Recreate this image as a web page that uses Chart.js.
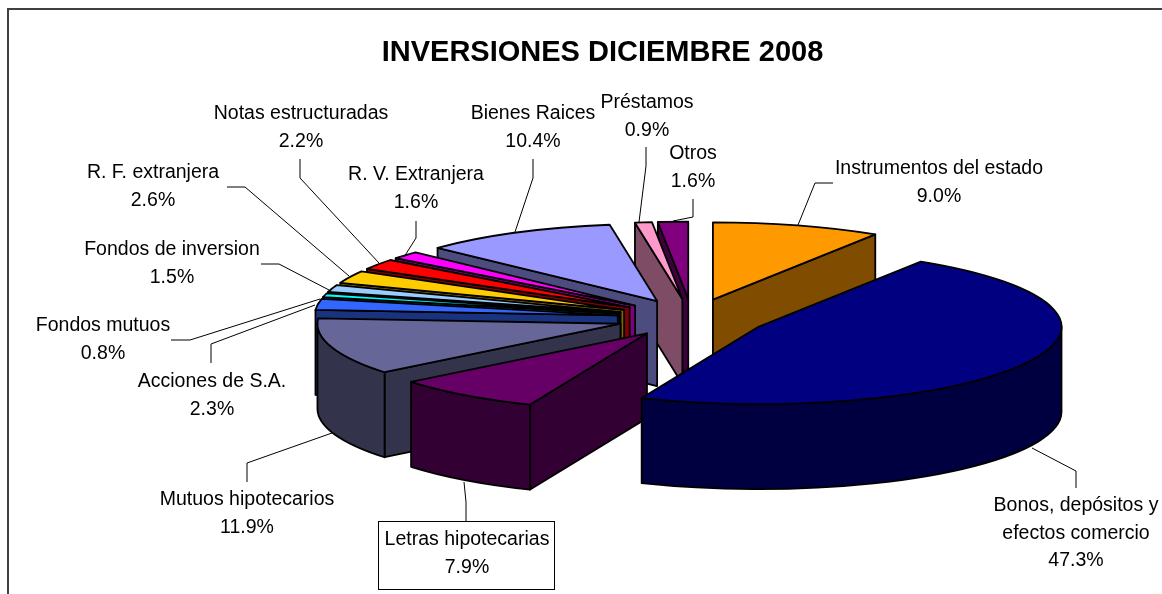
<!DOCTYPE html>
<html>
<head>
<meta charset="utf-8">
<title>Inversiones diciembre 2008</title>
<script src="https://cdn.jsdelivr.net/npm/chart.js@4"></script>
<style>
  html, body { margin: 0; padding: 0; background: #fff; overflow: hidden; }
  #wrap { width: 1162px; height: 594px; }
</style>
</head>
<body>
<div id="wrap"><canvas id="pie" width="1162" height="594"></canvas></div>
<script>
// Datos
const categories = [
  "Instrumentos del estado", "Bonos, depósitos y\nefectos comercio", "Letras hipotecarias",
  "Mutuos hipotecarios", "Acciones de S.A.", "Fondos mutuos", "Fondos de inversion",
  "R. F. extranjera", "Notas estructuradas", "R. V. Extranjera", "Bienes Raices",
  "Préstamos", "Otros"
];
const percents = [9.0, 47.3, 7.9, 11.9, 2.3, 0.8, 1.5, 2.6, 2.2, 1.6, 10.4, 0.9, 1.6];
const topColors = [
  "#FF9900", "#000080", "#660066", "#666699", "#3366FF", "#00FFFF", "#99CCFF",
  "#FFCC00", "#FF0000", "#FF00FF", "#9999FF", "#FF99CC", "#800080"
];

// Etiquetas: centro de la primera linea y linea guia
const labelSpots = [
  { x: 939, y: 169, line: [[833,183],[815,183],[798,225]] },
  { x: 1076, y: 506, line: [[1076,488],[1076,471],[1032,448]] },
  { x: 467, y: 540, line: [[466,521],[466,502],[464,482]], box: [378,521,176,68] },
  { x: 247, y: 500, line: [[247,482],[247,463],[332,433]] },
  { x: 212, y: 382, line: [[211,363],[211,344],[315,305]] },
  { x: 103, y: 326, line: [[171,340],[190,340],[320,299]] },
  { x: 172, y: 250, line: [[261,264],[279,264],[329,290]] },
  { x: 153, y: 173, line: [[227,187],[245,187],[349,276]] },
  { x: 301, y: 114, line: [[300,159],[300,178],[379,263]] },
  { x: 416, y: 175, line: [[416,221],[416,238],[404,257]] },
  { x: 533, y: 114, line: [[533,159],[533,178],[515,232]] },
  { x: 647, y: 103, line: [[646,147],[646,166],[639,222]] },
  { x: 693, y: 154, line: [[693,199],[693,217],[673,221]] }
];
const lineGap = 27.5;

// Vista 3D
const cx = 692, cy = 318, squash = 0.255, depth = 85, explode = 75;

function halfShade(hex) {
  const n = parseInt(hex.slice(1), 16);
  const r = (n >> 16) >> 1, g = ((n >> 8) & 255) >> 1, b = (n & 255) >> 1;
  return "rgb(" + r + "," + g + "," + b + ")";
}

function lowestSin(arc) {
  const a = arc.startAngle, b = arc.endAngle;
  if (a <= Math.PI / 2 && b >= Math.PI / 2) return 1;
  return Math.max(Math.sin(a), Math.sin(b));
}

function drawQuad(ctx, ax, ay, px, py, fill) {
  ctx.beginPath();
  ctx.moveTo(ax, ay);
  ctx.lineTo(px, py);
  ctx.lineTo(px, py + depth);
  ctx.lineTo(ax, ay + depth);
  ctx.closePath();
  ctx.fillStyle = fill;
  ctx.fill();
  ctx.stroke();
}

const framePlugin = {
  id: "frame",
  beforeDraw(chart) {
    const ctx = chart.ctx;
    ctx.save();
    ctx.strokeStyle = "#404040";
    ctx.lineWidth = 2;
    ctx.beginPath();
    ctx.moveTo(8, 594);
    ctx.lineTo(8, 9);
    ctx.lineTo(1162, 9);
    ctx.stroke();
    ctx.restore();
  }
};

// Dibuja cada porcion de atras hacia adelante, con sus paredes
const pie3d = {
  id: "pie3d",
  beforeDatasetDraw(chart, args) {
    const ctx = chart.ctx;
    const arcs = args.meta.data.slice().sort((p, q) => lowestSin(p) - lowestSin(q));

    arcs.forEach((arc) => {
      const i = args.meta.data.indexOf(arc);
      const a = arc.startAngle, b = arc.endAngle, r = arc.outerRadius;
      const mid = (a + b) / 2;
      const ax = cx + Math.cos(mid) * explode;
      const ay = cy + Math.sin(mid) * explode * squash;
      const wall = halfShade(topColors[i]);

      ctx.save();
      ctx.strokeStyle = "#000";
      ctx.lineWidth = 1.8;
      ctx.lineJoin = "round";

      // paredes rectas
      if (-Math.cos(a) > 0.001) {
        drawQuad(ctx, ax, ay, ax + Math.cos(a) * r, ay + Math.sin(a) * r * squash, wall);
      }
      if (Math.cos(b) > 0.001) {
        drawQuad(ctx, ax, ay, ax + Math.cos(b) * r, ay + Math.sin(b) * r * squash, wall);
      }

      // pared curva
      const lo = Math.max(a, 0), hi = Math.min(b, Math.PI);
      if (lo < hi) {
        ctx.beginPath();
        ctx.ellipse(ax, ay, r, r * squash, 0, lo, hi);
        ctx.ellipse(ax, ay + depth, r, r * squash, 0, hi, lo, true);
        ctx.closePath();
        ctx.fillStyle = wall;
        ctx.fill();
        ctx.stroke();
      }

      // cara superior, la dibuja el propio arco de Chart.js
      ctx.save();
      ctx.translate(ax, ay);
      ctx.scale(1, squash);
      ctx.translate(-arc.x, -arc.y);
      arc.draw(ctx);
      ctx.restore();

      ctx.beginPath();
      ctx.moveTo(ax, ay);
      ctx.ellipse(ax, ay, r, r * squash, 0, a, b);
      ctx.closePath();
      ctx.stroke();
      ctx.restore();
    });
    return false;
  },
  afterDatasetsDraw(chart) {
    const ctx = chart.ctx;
    ctx.save();
    ctx.font = '19.5px "Liberation Sans"';
    ctx.textAlign = "center";
    ctx.textBaseline = "middle";
    categories.forEach((name, i) => {
      const spot = labelSpots[i];
      ctx.strokeStyle = "#000";
      ctx.lineWidth = 1;
      ctx.beginPath();
      spot.line.forEach((p, k) => {
        if (k === 0) ctx.moveTo(p[0], p[1]);
        else ctx.lineTo(p[0], p[1]);
      });
      ctx.stroke();
      if (spot.box) {
        ctx.fillStyle = "#fff";
        ctx.fillRect(spot.box[0], spot.box[1], spot.box[2], spot.box[3]);
        ctx.strokeRect(spot.box[0] + 0.5, spot.box[1] + 0.5, spot.box[2], spot.box[3]);
      }
      ctx.fillStyle = "#000";
      const lines = name.split("\n").concat(percents[i].toFixed(1) + "%");
      lines.forEach((t, k) => ctx.fillText(t, spot.x, spot.y + k * lineGap));
    });
    ctx.restore();
  }
};

new Chart(document.getElementById("pie"), {
  type: "pie",
  data: {
    labels: categories,
    datasets: [{
      data: percents,
      backgroundColor: topColors,
      borderWidth: 0
    }]
  },
  options: {
    responsive: false,
    animation: false,
    events: [],
    radius: 303,
    layout: { padding: { left: 43 } },
    plugins: {
      legend: { display: false },
      tooltip: { enabled: false },
      title: {
        display: true,
        text: "INVERSIONES DICIEMBRE 2008",
        color: "#000",
        font: { family: '"Liberation Sans"', size: 29, weight: "bold" },
        padding: { top: 36, bottom: 10 }
      }
    }
  },
  plugins: [framePlugin, pie3d]
});
</script>
</body>
</html>
